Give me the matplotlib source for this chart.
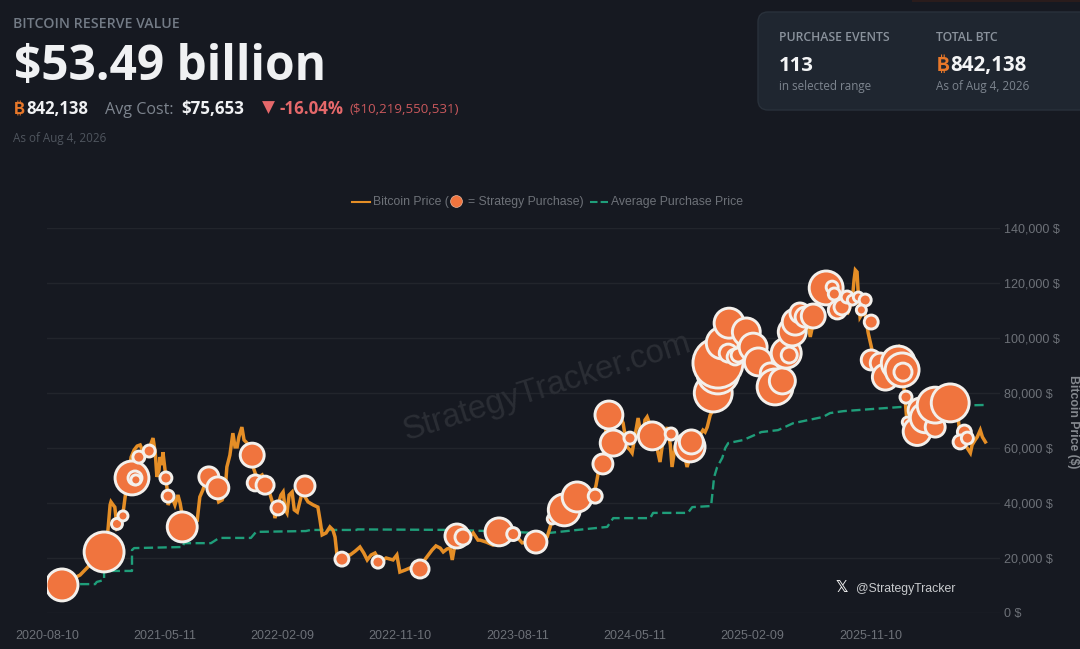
import matplotlib
matplotlib.use("Agg")
import matplotlib.pyplot as plt
from matplotlib.patches import FancyBboxPatch, Rectangle
from matplotlib.lines import Line2D

# days since 2020-08-10 and USD price
price_days = [35, 54, 77, 100, 123, 137, 142, 147, 149, 154, 158, 163, 170, 175, 182, 189, 196, 203, 210, 217,
              224, 233, 240, 247, 252, 256, 261, 263, 268, 270, 275, 280, 282, 291, 298, 305, 310, 317, 333, 350,
              356, 363, 373, 384, 394, 400, 408, 415, 419, 426, 433, 438, 443, 447, 454, 459, 466, 473, 480, 489,
              501, 510, 520, 527, 531, 538, 545, 550, 555, 559, 564, 571, 576, 583, 590, 594, 601, 608, 620, 631,
              636, 641, 650, 659, 666, 671, 676, 687, 697, 706, 718, 729, 738, 746, 755, 764, 776, 790, 806, 815,
              822, 834, 846, 860, 871, 885, 897, 906, 916, 923, 932, 939, 944, 951, 962, 974, 986, 993, 1004, 1009,
              1023, 1039, 1055, 1079, 1095, 1107, 1125, 1142, 1156, 1165, 1177, 1186, 1195, 1212, 1230, 1254, 1272,
              1279, 1284, 1295, 1302, 1307, 1316, 1330, 1342, 1351, 1358, 1363, 1370, 1377, 1384, 1389, 1393, 1398,
              1405, 1412, 1421, 1428, 1435, 1445, 1452, 1456, 1463, 1468, 1480, 1491, 1503, 1517, 1528, 1533, 1538,
              1545, 1552, 1559, 1568, 1580, 1591, 1603, 1615, 1626, 1638, 1654, 1673, 1696, 1715, 1731, 1748, 1766,
              1778, 1789, 1806, 1824, 1848, 1866, 1876, 1880, 1883, 1887, 1890, 1894, 1904, 1913, 1922, 1932, 1953,
              1969, 1983, 1992, 1999, 2006, 2015, 2029, 2046, 2069, 2092, 2109, 2123, 2127, 2139, 2151, 2155, 2162,
              2167, 2174, 2179, 2186]
price_vals = [9800, 12000, 13800, 17500, 20000, 23600, 30200, 39300, 40400, 39300, 38500, 31300, 33100, 33800, 42200,
              49500, 56700, 59300, 60700, 61100, 58500, 57400, 60700, 63600, 58500, 49500, 52000, 56700, 53800, 58500,
              52000, 44700, 39300, 42200, 39300, 42900, 40000, 33800, 34500, 33800, 42200, 44700, 49500, 46500, 44000,
              40400, 41100, 44700, 53100, 57400, 65400, 60400, 60400, 64000, 67600, 62900, 61800, 58500, 53100, 49100,
              50200, 46500, 42900, 39300, 34500, 39300, 42900, 44000, 37500, 36400, 42900, 44000, 37500, 36700, 41100,
              43600, 42200, 40400, 39300, 38500, 33800, 28400, 29100, 31300, 30200, 27600, 20400, 19300, 21100, 21100,
              22500, 24000, 21800, 19300, 21100, 21800, 18500, 20000, 19300, 21100, 14900, 15600, 16400, 15600, 17500,
              20400, 22900, 24400, 23600, 22200, 23300, 23600, 19300, 25500, 26500, 28400, 28000, 29100, 26500, 26500,
              25800, 24700, 25800, 27300, 27600, 25500, 25800, 25500, 26500, 27600, 33800, 35600, 37500, 40000, 41100,
              42200, 42200, 46500, 50900, 54500, 66500, 71300, 72000, 73100, 69100, 60400, 59300, 58200, 64700, 70900,
              64700, 65400, 70200, 71300, 68400, 65400, 60000, 54900, 62900, 67600, 61100, 53100, 60400, 62900, 61100,
              53100, 59300, 63600, 66500, 65800, 67600, 72000, 73800, 79300, 88400, 99300, 107300, 101100, 93800, 97400,
              99300, 90200, 87600, 82900, 86500, 95600, 104700, 110200, 100400, 108400, 117400, 119300, 112000, 109400,
              113800, 121100, 124700, 124000, 115600, 107600, 110200, 101800, 95600, 92700, 92000, 94900, 96700, 88400,
              77400, 64700, 62900, 66500, 72000, 77400, 77400, 75600, 70200, 64700, 61100, 58200, 61100, 62900, 64000,
              66500, 64000, 62200]

avg_days = [77, 112, 116, 133, 133, 198, 198, 203, 317, 319, 382, 401, 475, 487, 603, 614, 721, 723, 956, 1163, 1235,
            1305, 1319, 1405, 1412, 1493, 1503, 1547, 1554, 1561, 1573, 1580, 1587, 1622, 1664, 1703, 1738, 1808,
            1824, 1855, 1925, 1988, 2186]
avg_vals = [10500, 10500, 11300, 12000, 15300, 15300, 22900, 23600, 24000, 25400, 25400, 27300, 27300, 29500, 29800,
            30200, 30200, 30400, 30200, 29000, 30200, 31300, 34500, 34500, 36400, 36400, 38500, 38900, 49400, 53000,
            56400, 60000, 61800, 62900, 65800, 66500, 69000, 71300, 72700, 73400, 74200, 74900, 75653]

purchase_days = [35, 133, 163, 177, 198, 205, 207, 214, 238, 277, 282, 315, 377, 398, 478, 485, 508, 538, 601, 687,
                 771, 869, 955, 969, 1053, 1086, 1139, 1177, 1205, 1235, 1277, 1295, 1309, 1319, 1358, 1410, 1454,
                 1498, 1501, 1552, 1563, 1563, 1573, 1589, 1587, 1603, 1610, 1629, 1645, 1657, 1685, 1696, 1713, 1722,
                 1729, 1736, 1743, 1754, 1766, 1785, 1815, 1829, 1834, 1841, 1852, 1864, 1876, 1890, 1906, 1897, 1920,
                 1920, 1941, 1953, 1983, 1992, 1994, 2001, 2004, 2027, 2034, 2046, 2069, 2069, 2104, 2137, 2127, 2144]
purchase_prices = [10200, 22200, 32400, 35300, 49100, 49100, 48400, 56700, 58900, 49100, 42500, 31300, 49500, 45500,
                   57400, 47300, 46500, 38200, 46200, 19600, 18500, 16000, 28000, 27600, 29500, 28700, 25800, 34200,
                   37500, 42200, 42500, 54200, 72000, 61800, 63600, 64400, 65100, 60400, 62200, 80000, 87300, 90900,
                   98200, 105400, 94500, 93100, 93800, 102200, 96700, 91300, 87300, 82200, 84400, 94500, 93800, 102200,
                   105800, 109100, 107600, 108000, 118200, 118500, 116000, 110200, 111300, 114900, 113800, 114900,
                   113800, 110200, 105800, 92000, 90900, 85800, 90900, 88400, 87600, 78500, 69400, 66000, 73800, 71000,
                   67600, 75600, 76400, 65800, 62200, 63600]
purchase_btc = [11000, 17200, 1300, 1075, 12400, 2100, 1075, 1550, 1550, 1550, 1550, 9700, 4300, 5200, 6200, 2750, 3500,
                2100, 4300, 2100, 1550, 3500, 6200, 2750, 8400, 1800, 5200, 1075, 11000, 9700, 2100, 4300, 8400, 7300,
                1550, 8400, 1550, 9700, 6200, 15500, 19000, 27000, 11000, 9700, 3500, 2750, 2100, 8400, 8400, 8400,
                4300, 13900, 7300, 9700, 2750, 8400, 7300, 4300, 4300, 6200, 12400, 1550, 1550, 3500, 2750, 1550, 1075,
                1075, 1550, 1075, 2100, 4300, 4300, 7300, 12400, 12400, 3500, 1550, 1075, 8400, 6200, 9700, 4300, 13900,
                15500, 2100, 2100, 1550]

x_tick_days = [0, 274, 548, 822, 1096, 1370, 1644, 1918]
x_tick_labels = ["2020-08-10", "2021-05-11", "2022-02-09", "2022-11-10", "2023-08-11", "2024-05-11", "2025-02-09",
                 "2025-11-10"]
y_ticks = [0, 20000, 40000, 60000, 80000, 100000, 120000, 140000]

BG = "#161921"
ORANGE = "#e58e26"
BUBBLE = "#f0743e"
GREEN = "#1f9e7a"
UI = ["Open Sans", "DejaVu Sans"]
COIN = ["Inter", "Roboto", "Noto Sans", "Lato", "Liberation Sans", "Noto Sans CJK SC", "DejaVu Sans"]
CHART = ["Liberation Sans", "DejaVu Sans"]

W, H = 1080, 649
fig = plt.figure(figsize=(10.8, 6.49), dpi=100, facecolor=BG)

# pixel-space layer for the page header, card and legend
hud = fig.add_axes([0, 0, 1, 1], zorder=1)
hud.set_xlim(0, W)
hud.set_ylim(H, 0)
hud.axis("off")


def txt(x, y, s, size, color, weight="normal", family=UI, **kw):
    return hud.text(x, y, s, fontsize=size, color=color, fontweight=weight, family=family, va="baseline", **kw)


hud.add_patch(Rectangle((912, 0), 168, 2, facecolor="#2a1c1c", edgecolor="none"))
hud.add_patch(FancyBboxPatch((758, 12), 340, 98, boxstyle="round,pad=0,rounding_size=10", mutation_aspect=1,
                             facecolor="#1f2630", edgecolor="#29313b", linewidth=1))

txt(13, 28, "BITCOIN RESERVE VALUE", 10.2, "#737b86", "semibold")
txt(14, 80, "$53.49 billion", 34.5, "#f0f1f3", "bold")
txt(14, 114, "₿", 12, "#e8782a", "bold", family=COIN)
txt(26, 114, "842,138", 12, "#f0f1f3", "bold")
txt(105, 114, "Avg Cost:", 11.6, "#7d848e")
txt(181, 114, "$75,653", 12.2, "#f0f1f3", "bold")
hud.scatter([268], [107], marker="v", s=85, color="#e5686a", linewidths=0)
txt(280, 114, "-16.04%", 12.2, "#e5686a", "bold")
txt(349, 113, "($10,219,550,531)", 9.6, "#c9585c")
txt(13, 142, "As of Aug 4, 2026", 8.4, "#4f555e")

txt(779, 41, "PURCHASE EVENTS", 8.8, "#8a929c", "semibold")
txt(779, 71, "113", 14.6, "#f4f5f6", "bold")
txt(779, 90, "in selected range", 8.4, "#7d858f")
txt(936, 41, "TOTAL BTC", 8.8, "#8a929c", "semibold")
txt(937, 71, "₿", 14, "#e8782a", "bold", family=COIN)
txt(950, 71, "842,138", 14.8, "#f4f5f6", "bold")
txt(936, 90, "As of Aug 4, 2026", 8.4, "#7d858f")

# legend
hud.add_line(Line2D([352, 370], [202, 202], color=ORANGE, linewidth=1.5))
txt(373, 205, "Bitcoin Price (", 8.8, "#6d7178", family=CHART)
hud.scatter([456], [201], s=72, color=BUBBLE, edgecolors="#e8b8a0", linewidths=0.5)
txt(468, 205, "= Strategy Purchase)", 8.8, "#6d7178", family=CHART)
hud.add_line(Line2D([590, 608], [202, 202], color=GREEN, linewidth=1.5, dashes=(3.6, 1.5)))
txt(611, 205, "Average Purchase Price", 8.8, "#6d7178", family=CHART)

# chart
ax = fig.add_axes([47 / W, 1 - 613 / H, 953 / W, 385 / H], zorder=2)
ax.patch.set_alpha(0)
ax.set_xlim(0, 2220)
ax.set_ylim(0, 140000)
for s in ax.spines.values():
    s.set_visible(False)
ax.set_yticks(y_ticks)
ax.set_yticklabels([f"{v:,} $" for v in y_ticks], family=CHART, fontsize=9, color="#6d7178")
ax.yaxis.tick_right()
ax.set_xticks(x_tick_days)
ax.set_xticklabels(x_tick_labels, family=CHART, fontsize=9, color="#6d7178")
ax.tick_params(length=0)
ax.tick_params(axis="x", pad=12)
ax.tick_params(axis="y", pad=3)
ax.grid(axis="y", color="#22252c", linewidth=1)
ax.set_axisbelow(True)

ax.text(1165, 82000, "StrategyTracker.com", fontsize=23.5, color="#2b2e35", rotation=17.4, ha="center", va="center",
        rotation_mode="anchor", family=CHART, zorder=1)

ax.plot(avg_days, avg_vals, color=GREEN, linewidth=1.7, dashes=(3.9, 1.9), zorder=2.5)
ax.plot(price_days, price_vals, color=ORANGE, linewidth=2.5, solid_joinstyle="miter", zorder=3)
ax.scatter(purchase_days, purchase_prices, s=[b * 0.048 for b in purchase_btc], color=BUBBLE, edgecolors="#f3f0ec",
           linewidths=2.1, zorder=4)

ax.text(1073 / W, 1 - 422 / H, "Bitcoin Price ($)", transform=fig.transFigure, rotation=270, ha="center", va="center",
        fontsize=8.8, color="#85898f", fontweight="bold", family=CHART)
ax.text(842 / W, 1 - 588 / H, "𝕏", transform=fig.transFigure, ha="center", va="center", fontsize=11, color="#f0f0f0",
        fontweight="bold", family=["DejaVu Sans"], zorder=5)
ax.text(856 / W, 1 - 592 / H, "@StrategyTracker", transform=fig.transFigure, fontsize=8.8, color="#c9cbce",
        family=CHART, zorder=5)

fig.savefig("out.png", dpi=100, facecolor=BG)
print("Saved out.png")
